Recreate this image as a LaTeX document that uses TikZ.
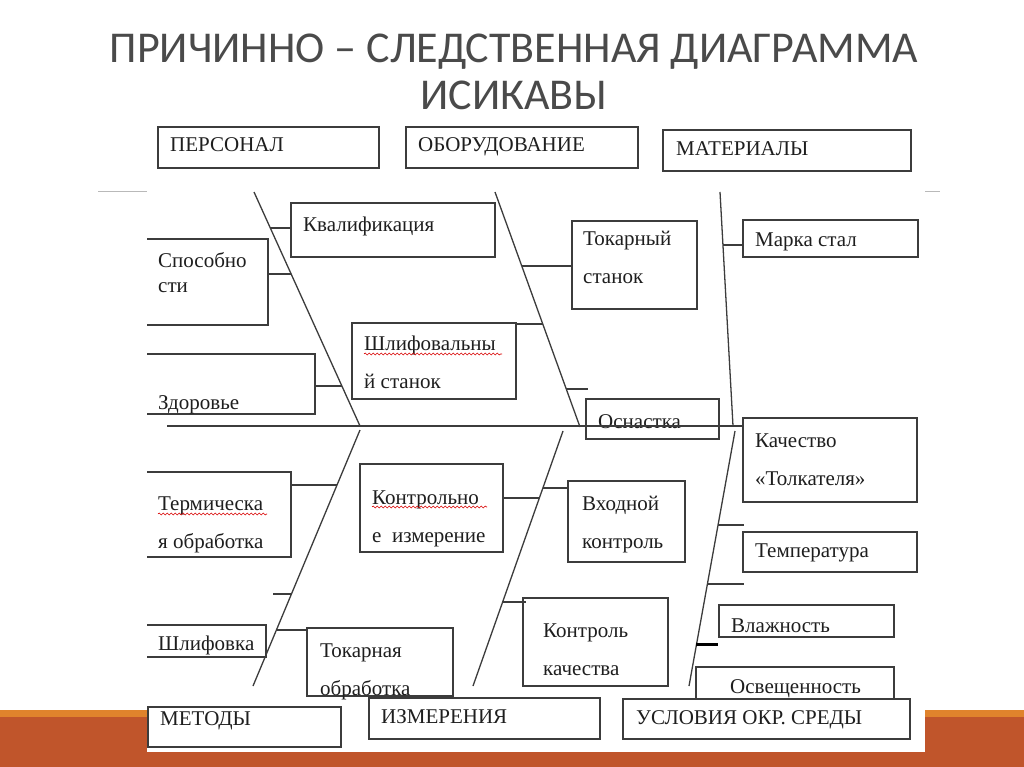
\documentclass[tikz,border=0pt]{standalone}
\usepackage{fontspec}
\setmainfont{Liberation Serif}
\newfontfamily\titlefont{Carlito}
\usepackage{tikz}
\usetikzlibrary{fit,calc,decorations.pathmorphing}

\definecolor{bandlight}{HTML}{E0832C}
\definecolor{banddark}{HTML}{C0552B}
\definecolor{linegray}{HTML}{3C3C3C}
\definecolor{inkblack}{HTML}{1E1E1E}
\definecolor{titlegray}{HTML}{4A4A4A}

\begin{document}
\begin{tikzpicture}[
  x=1pt, y=-1pt,
  box/.style={draw=linegray, line width=1.3pt, inner sep=0pt},
  bone/.style={draw=linegray, line width=1.3pt},
  lbl/.style={font=\fontsize{21}{37.5}\selectfont, text=inkblack, inner sep=0pt, anchor=base west, align=left},
  wavy/.style={draw=red!85!black, line width=0.6pt, decorate, decoration={snake, amplitude=1pt, segment length=4pt}}
]
\useasboundingbox (0,0) rectangle (1024,767);
\fill[white] (0,0) rectangle (1024,767);

% slide frame
\fill[bandlight] (0,710) rectangle (1024,767);
\fill[banddark] (0,717) rectangle (1024,767);
\draw[gray!55, line width=1pt] (98,192) -- (940,192);
\node[font=\titlefont\fontsize{44}{47}\selectfont, text=titlegray, align=center, anchor=base, inner sep=0pt] (title) at (514,110)
  {ПРИЧИННО – СЛЕДСТВЕННАЯ ДИАГРАММА\\ИСИКАВЫ};

% picture
\fill[white] (147,118) rectangle (925,752);
\begin{scope}
\clip (147,118) rectangle (925,752);

% spine and bones
\coordinate (tail) at (167,426);
\coordinate (b1a) at (254,192); \coordinate (b1b) at (360,426);
\coordinate (b2a) at (495,192); \coordinate (b2b) at (580,427);
\coordinate (b3a) at (720,192); \coordinate (b3b) at (733,426);
\coordinate (b4a) at (360,430); \coordinate (b4b) at (253,686);
\coordinate (b5a) at (563,431); \coordinate (b5b) at (473,686);
\coordinate (b6a) at (735,431); \coordinate (b6b) at (689,686);
\draw[bone] (b1a) -- (b1b);
\draw[bone] (b2a) -- (b2b);
\draw[bone] (b3a) -- (b3b);
\draw[bone] (b4a) -- (b4b);
\draw[bone] (b5a) -- (b5b);
\draw[bone] (b6a) -- (b6b);

% category boxes
\node[box, fit={(158,127) (379,168)}] (pers) {};
\node[box, fit={(406,127) (638,168)}] (obor) {};
\node[box, fit={(663,130) (911,171)}] (mat) {};
\node[box, fit={(148,707) (341,747)}] (metod) {};
\node[box, fit={(369,698) (600,739)}] (izm) {};
\node[box, fit={(623,699) (910,739)}] (usl) {};
\node[lbl] (persT) at (170,152) {ПЕРСОНАЛ};
\node[lbl] (oborT) at (418,152) {ОБОРУДОВАНИЕ};
\node[lbl] (matT) at (676,156) {МАТЕРИАЛЫ};
\node[lbl] (metodT) at (160,725) {МЕТОДЫ};
\node[lbl] (izmT) at (381,723) {ИЗМЕРЕНИЯ};
\node[lbl] (uslT) at (636,724) {УСЛОВИЯ ОКР. СРЕДЫ};

% cause boxes
\node[box, fit={(291,203) (495,257)}] (kval) {};
\node[box, fit={(140,239) (268,325)}] (spos) {};
\node[box, fit={(140,354) (315,414)}] (zdor) {};
\node[box, fit={(352,323) (516,399)}] (shlif) {};
\node[box, fit={(572,221) (697,309)}] (tokst) {};
\node[box, fit={(586,399) (719,439)}] (osn) {};
\node[box, fit={(743,220) (918,257)}] (marka) {};
\node[box, fit={(140,472) (291,557)}] (term) {};
\node[box, fit={(140,625) (266,657)}] (shlf) {};
\node[box, fit={(307,628) (453,696)}] (tokob) {};
\node[box, fit={(360,464) (503,552)}] (kizm) {};
\node[box, fit={(568,481) (685,562)}] (vhod) {};
\node[box, fit={(523,598) (668,686)}] (kk) {};
\node[box, fit={(743,418) (917,502)}] (kach) {};
\node[box, fit={(743,532) (917,572)}] (temp) {};
\node[box, fit={(719,605) (894,637)}] (vlag) {};
\node[box, fit={(696,667) (894,699)}] (osv) {};

% texts (two-line texts sit on their last baseline)
\node[lbl] (kvalT) at (303,232) {Квалификация};
\node[lbl] (sposT) at (158,292) {Способно\\[-12.5pt]сти};
\node[lbl] (zdorT) at (158,409) {Здоровье};
\node[lbl] (shlifT) at (364,388) {Шлифовальны\\й станок};
\node[lbl] (tokstT) at (583,283) {Токарный\\станок};
\node[lbl] (osnT) at (598,428) {Оснастка};
\node[lbl] (markaT) at (755,247) {Марка стал};
\node[lbl] (termT) at (158,548) {Термическа\\я обработка};
\node[lbl] (shlfT) at (158,650) {Шлифовка};
\node[lbl] (tokobT) at (320,695) {Токарная\\обработка};
\node[lbl] (kizmT) at (372,542) {Контрольно\\е\ \ измерение};
\node[lbl] (vhodT) at (582,548) {Входной\\контроль};
\node[lbl] (kkT) at (543,675) {Контроль\\качества};
\node[lbl] (kachT) at (755,485) {Качество\\«Толкателя»};
\node[lbl] (tempT) at (755,557) {Температура};
\node[lbl] (vlagT) at (731,632) {Влажность};
\node[lbl] (osvT) at (730,693) {Освещенность};

% spell-check marks
\draw[wavy] ([yshift=34]shlifT.base west) -- ++(138,0);
\draw[wavy] ([yshift=35]kizmT.base west) -- ++(115,0);
\draw[wavy] ([yshift=34]termT.base west) -- ++(109,0);

% spine
\draw[bone] (tail) -- (tail -| kach.west);

% branches
\coordinate (s1) at ($(b1a)!0.154!(b1b)$);
\coordinate (s2) at ($(b1a)!0.350!(b1b)$);
\coordinate (s3) at ($(b1a)!0.829!(b1b)$);
\coordinate (s4) at ($(b2a)!0.315!(b2b)$);
\coordinate (s5) at ($(b2a)!0.562!(b2b)$);
\coordinate (s6) at ($(b2a)!0.838!(b2b)$);
\coordinate (s7) at ($(b3a)!0.226!(b3b)$);
\coordinate (s8) at ($(b4a)!0.215!(b4b)$);
\coordinate (s9) at ($(b4a)!0.641!(b4b)$);
\coordinate (s10) at ($(b4a)!0.781!(b4b)$);
\coordinate (s11) at ($(b5a)!0.263!(b5b)$);
\coordinate (s12) at ($(b5a)!0.224!(b5b)$);
\coordinate (s13) at ($(b5a)!0.671!(b5b)$);
\coordinate (s14) at ($(b6a)!0.369!(b6b)$);
\coordinate (s15) at ($(b6a)!0.600!(b6b)$);
\coordinate (s16) at ($(b6a)!0.839!(b6b)$);
\draw[bone] (s1) -- (s1 -| kval.west);
\draw[bone] (s2) -- (s2 -| spos.east);
\draw[bone] (s3) -- (s3 -| zdor.east);
\draw[bone] (s4) -- (s4 -| tokst.west);
\draw[bone] (s5) -- (s5 -| shlif.east);
\draw[bone] (s6) -- ([xshift=3]s6 -| osn.west);
\draw[bone] (s7) -- (s7 -| marka.west);
\draw[bone] (s8) -- (s8 -| term.east);
\draw[bone] (s9) -- ++(-18,0);
\draw[bone] (s10) -- (s10 -| tokob.west);
\draw[bone] (s11) -- (s11 -| kizm.east);
\draw[bone] (s12) -- (s12 -| vhod.west);
\draw[bone] (s13) -- ([xshift=4]s13 -| kk.west);
\draw[bone] (s14) -- ([xshift=2]s14 -| temp.west);
\draw[bone] (s15) -- ([xshift=2]s15 -| temp.west);
\draw[bone, draw=black, line width=3pt] (s16) -- (s16 -| vlag.west);
\end{scope}
\end{tikzpicture}
\end{document}
